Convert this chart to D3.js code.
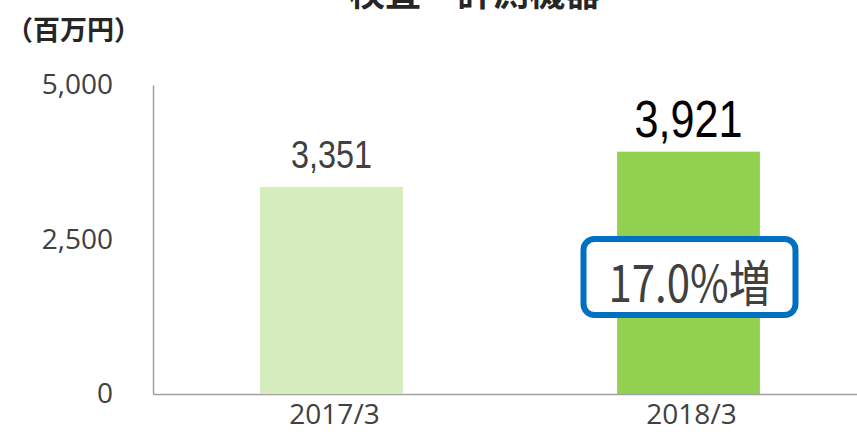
<!DOCTYPE html>
<html>
<head>
<meta charset="utf-8">
<script src="https://cdn.jsdelivr.net/npm/d3@7"></script>
<style>
  body { margin: 0; background: #fff; }
  svg { display: block; }
</style>
</head>
<body>
<svg id="chart" width="857" height="439"></svg>
<script>
'use strict';

var categories = ['2017/3', '2018/3'],
    values = [3351, 3921],
    valueLabels = ['3,351', '3,921'],
    yTicks = [0, 2500, 5000],
    title = '検査・計測機器',
    unitLabel = '（百万円）',
    growthLabel = '17.0%増';

var svg = d3.select('#chart');
var width = 857, height = 439;
var margin = { left: 153, right: -10, top: 85, bottom: 45 };

var x = d3.scaleBand()
  .domain(categories)
  .range([margin.left, width - margin.right])
  .paddingInner(0.6)
  .paddingOuter(0.3);

var y = d3.scaleLinear()
  .domain([0, 5000])
  .range([height - margin.bottom, margin.top]);

// title, cut off at the top edge of the picture
svg.append('text')
  .attr('x', 475)
  .attr('y', 6)
  .attr('text-anchor', 'middle')
  .style('font-family', '"Noto Sans CJK JP"')
  .style('font-weight', 'bold')
  .style('font-size', '36px')
  .style('fill', '#262626')
  .text(title);

svg.append('text')
  .attr('x', 6)
  .attr('y', 40)
  .style('font-family', '"Noto Sans CJK JP"')
  .style('font-weight', 'bold')
  .style('font-size', '27px')
  .style('fill', '#262626')
  .text(unitLabel);

// y axis
var yAxis = d3.axisLeft(y)
  .tickValues(yTicks)
  .tickSize(0)
  .tickPadding(40)
  .tickFormat(d3.format(','));

var gy = svg.append('g')
  .attr('transform', 'translate(' + margin.left + ',0)')
  .call(yAxis);
gy.select('.domain').attr('stroke', '#a0a0a0').attr('stroke-width', 1.5);
gy.selectAll('text')
  .style('font-family', '"Open Sans"')
  .style('font-size', '28px')
  .style('fill', '#404040');

// x axis
var xAxis = d3.axisBottom(x).tickSize(0).tickPadding(10);
var gx = svg.append('g')
  .attr('transform', 'translate(0,' + y(0) + ')')
  .call(xAxis);
gx.select('.domain').attr('stroke', '#a0a0a0').attr('stroke-width', 1.5);
gx.selectAll('text')
  .attr('transform', 'translate(3,0)')
  .style('font-family', '"Open Sans"')
  .style('font-size', '28px')
  .style('fill', '#404040');

// bars
var barColors = ['#d5ecbc', '#92d050'];
svg.selectAll('rect.bar')
  .data(values)
  .enter().append('rect')
  .attr('class', 'bar')
  .attr('x', function (d, i) { return x(categories[i]); })
  .attr('y', function (d) { return y(d); })
  .attr('width', x.bandwidth())
  .attr('height', function (d) { return y(0) - y(d); })
  .attr('fill', function (d, i) { return barColors[i]; });

// value labels (condensed look)
var labelSizes = [39, 52], labelColors = ['#404040', '#000'], labelGap = [19, 15];
svg.selectAll('text.val')
  .data(values)
  .enter().append('text')
  .attr('class', 'val')
  .attr('transform', function (d, i) {
    var lx = x(categories[i]) + x.bandwidth() / 2,
        ly = y(d) - labelGap[i];
    return 'translate(' + lx + ',' + ly + ') scale(0.83,1)';
  })
  .attr('text-anchor', 'middle')
  .style('font-family', '"Liberation Sans", Arial')
  .style('font-size', function (d, i) { return labelSizes[i] + 'px'; })
  .style('fill', function (d, i) { return labelColors[i]; })
  .text(function (d, i) { return valueLabels[i]; });

// growth callout
var cx = x(categories[1]) + x.bandwidth() / 2;
svg.append('rect')
  .attr('x', cx - 105)
  .attr('y', 239)
  .attr('width', 212)
  .attr('height', 76)
  .attr('rx', 11)
  .attr('fill', '#fff')
  .attr('stroke', '#0070c0')
  .attr('stroke-width', 6);

svg.append('text')
  .attr('transform', 'translate(' + (cx + 1) + ',302) scale(0.84,1)')
  .attr('text-anchor', 'middle')
  .style('font-family', '"Noto Sans CJK JP"')
  .style('font-size', '50px')
  .style('fill', '#404040')
  .text(growthLabel);
</script>
</body>
</html>
